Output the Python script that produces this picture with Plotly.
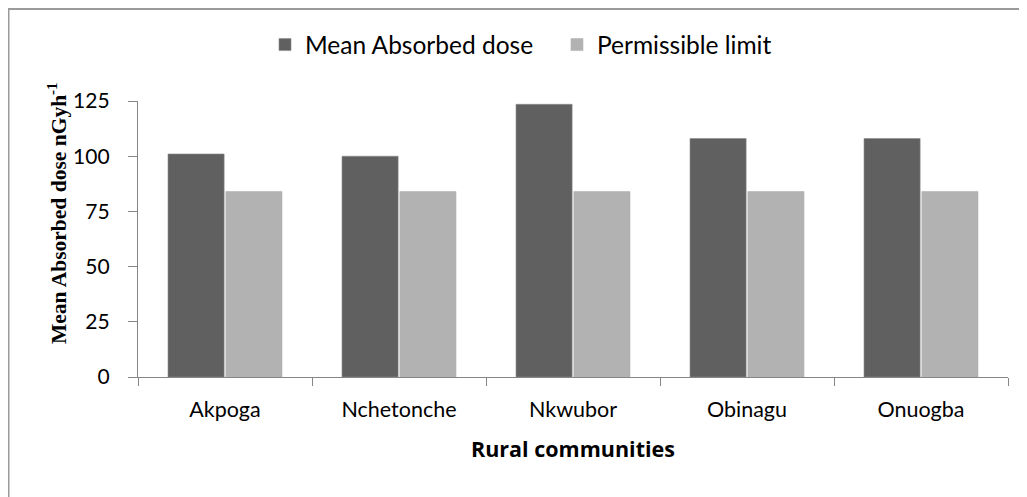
import plotly.graph_objects as go

categories = ["Akpoga", "Nchetonche", "Nkwubor", "Obinagu", "Onuogba"]
mean_absorbed = [101, 100, 123.5, 108, 108]
permissible = [84, 84, 84, 84, 84]
y_ticks = [0, 25, 50, 75, 100, 125]

font_body = "Lato, Open Sans, sans-serif"

fig = go.Figure()
fig.add_trace(go.Bar(name="Mean Absorbed dose", x=categories, y=mean_absorbed,
                     marker=dict(color="#606060", line=dict(color="#8a8a8a", width=0.6))))
fig.add_trace(go.Bar(name="Permissible limit", x=categories, y=permissible,
                     marker=dict(color="#b2b2b2", line=dict(color="#b2b2b2", width=0.6))))

PW, PH = 870, 276
fig.update_layout(
    width=1019, height=489,
    margin=dict(l=130, r=19, t=93, b=120),
    paper_bgcolor="white", plot_bgcolor="white",
    barmode="group", bargap=0.335, bargroupgap=0.03,
    font=dict(family=font_body, size=21, color="#000000"),
    legend=dict(orientation="h", x=(265 - 8) / 1019, xanchor="left", xref="container",
                y=0.925, yanchor="middle", yref="container",
                entrywidth=247, entrywidthmode="pixels",
                font=dict(size=24.5), traceorder="normal"),
    xaxis=dict(showline=True, linecolor="#868686", linewidth=1.3,
               ticks="outside", tickson="boundaries", ticklen=8, tickcolor="#868686",
               tickfont=dict(size=21.5), ticklabelstandoff=13,
               title=dict(text="<b>Rural communities</b>",
                          font=dict(family="Open Sans, sans-serif", size=21.5), standoff=20)),
    yaxis=dict(range=[0, 125], tickvals=y_ticks, showline=True, linecolor="#868686",
               linewidth=1.3, ticks="outside", ticklen=9, tickcolor="#868686",
               showgrid=False, zeroline=False, tickfont=dict(size=21), ticklabelstandoff=14),
    annotations=[dict(text="<b>Mean Absorbed dose nGyh<sup>-1</sup></b>",
                      textangle=-90, xref="paper", yref="paper",
                      x=(49 - 130) / PW, y=1 - (205 - 93) / PH,
                      xanchor="center", yanchor="middle", showarrow=False,
                      font=dict(family="Liberation Serif, Times New Roman, serif", size=21.5))],
    shapes=[dict(type="rect", xref="paper", yref="paper",
                 x0=-129.5 / PW, x1=1.2, y0=-0.6, y1=1 + 92 / PH,
                 line=dict(color="#9a9a9a", width=2), fillcolor="rgba(0,0,0,0)",
                 layer="below")],
)

fig.write_html("out.html")
